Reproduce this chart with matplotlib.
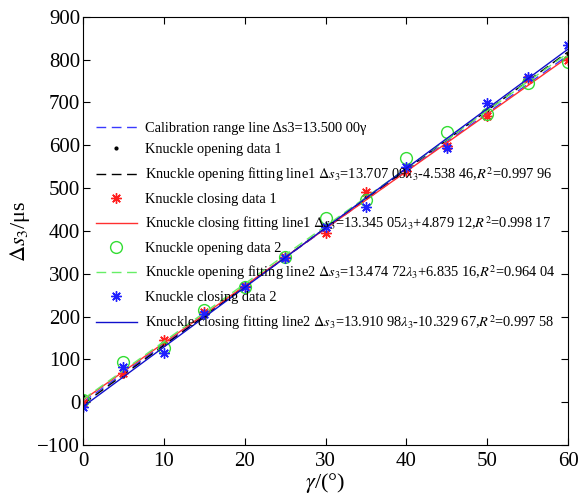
import numpy as np
import matplotlib
matplotlib.use("Agg")
import matplotlib.pyplot as plt

plt.rcParams["font.family"] = ["Liberation Serif", "DejaVu Serif"]
plt.rcParams["mathtext.fontset"] = "stix"
plt.rcParams["lines.dashed_pattern"] = [7, 4]

# rotation angle (deg)
gamma = [0, 5, 10, 15, 20, 25, 30, 35, 40, 45, 50, 55, 60]

# measured time differences (us)
open1 = [14, 62, 135, 205, 270, 335, 410, 478, 542, 600, 682, 757, 812]
close1 = [-3, 69, 144, 210, 272, 338, 396, 490, 540, 597, 669, 755, 798]
open2 = [5, 94, 126, 215, 270, 340, 431, 472, 570, 630, 672, 746, 795]
close2 = [-12, 83, 115, 205, 268, 337, 408, 455, 550, 594, 699, 760, 834]

# linear fits: (slope, intercept, R^2)
calib_slope = 13.5
fit_open1 = (13.70709, -4.53846, 0.99796)
fit_close1 = (13.34505, 4.87912, 0.99817)
fit_open2 = (13.47472, 6.83516, 0.96404)
fit_close2 = (13.91098, -10.32967, 0.99758)

x_fit = np.array([0, 60])


def grouped(v):
    s = "%.5f" % abs(v)
    return s[:-2] + " " + s[-2:]


def fit_label(name, fit):
    k, b, r2 = fit
    sign = "+" if b >= 0 else "-"
    return (name + " $\\Delta s_3$=" + grouped(k) + "$\\lambda_3$" + sign
            + grouped(b) + ",$R^2$=" + grouped(r2))


fig = plt.figure(figsize=(5.85, 4.94), dpi=100)
ax = fig.add_axes([0.142, 0.0992, 0.829, 0.867])

ax.plot(x_fit, calib_slope * x_fit, "--", color="#3a3aff", lw=1.0,
        label="Calibration range line \u0394s3=13.500 00\u03b3")
ax.plot(gamma, open1, ".", color="black", ms=4,
        label="Knuckle opening data 1")
ax.plot(x_fit, fit_open1[0] * x_fit + fit_open1[1], "--", color="black",
        lw=1.0, label=fit_label("Knuckle opening fitting line1", fit_open1))
ax.plot(gamma, close1, ls="none", marker=(8, 2, 0), color="#ff2020",
        ms=7.5, mew=1.0, label="Knuckle closing data 1")
ax.plot(x_fit, fit_close1[0] * x_fit + fit_close1[1], "-", color="#ff3030",
        lw=1.0, label=fit_label("Knuckle closing fitting line1", fit_close1))
ax.plot(gamma, open2, "o", mfc="none", mec="#33dd33", ms=8.5, mew=1.0,
        label="Knuckle opening data 2")
ax.plot(x_fit, fit_open2[0] * x_fit + fit_open2[1], "--", color="#66ee66",
        lw=1.0, label=fit_label("Knuckle opening fitting line2", fit_open2))
ax.plot(gamma, close2, ls="none", marker=(8, 2, 0), color="#2020ff",
        ms=7.5, mew=1.0, label="Knuckle closing data 2")
ax.plot(x_fit, fit_close2[0] * x_fit + fit_close2[1], "-", color="#1010cc",
        lw=1.0, label=fit_label("Knuckle closing fitting line2", fit_close2))

ax.set_xlim(0, 60)
ax.set_ylim(-100, 900)
ax.set_xticks(range(0, 61, 10))
ax.set_yticks(range(-100, 901, 100))
ax.tick_params(direction="in", top=True, right=True, length=5,
               labelsize=15, width=0.8)
ax.tick_params(axis="y", pad=2)
ax.tick_params(axis="x", pad=5)
for s in ax.spines.values():
    s.set_linewidth(0.8)

ax.set_xlabel("$\\gamma$/(\u00b0)", fontsize=16, labelpad=0)
ax.set_ylabel("$\\Delta s_3$/\u03bcs", fontsize=16, labelpad=4)

ax.legend(loc="center left", bbox_to_anchor=(0.027, 0.51), frameon=False,
          fontsize=10.4, handlelength=2.8, handletextpad=0.6,
          borderpad=0, borderaxespad=0, labelspacing=0.6, numpoints=1)

fig.savefig("out.png", dpi=100)
